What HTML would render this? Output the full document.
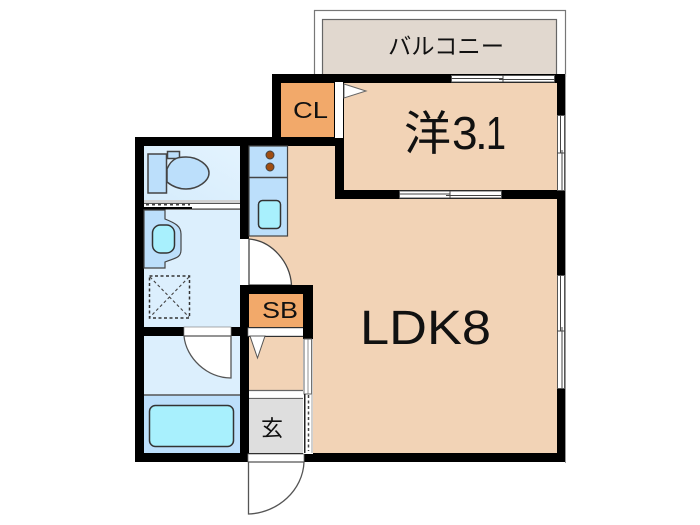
<!DOCTYPE html>
<html><head><meta charset="utf-8"><style>
html,body{margin:0;padding:0;background:#fff}
svg{display:block}
text{font-family:"Liberation Sans","Noto Sans CJK JP",sans-serif;fill:#111}
</style></head><body>
<svg width="700" height="525" viewBox="0 0 700 525" xmlns="http://www.w3.org/2000/svg">
<defs>
<linearGradient id="lb" x1="0" y1="1" x2="1" y2="0"><stop offset="0" stop-color="#d6ecfc"/><stop offset="1" stop-color="#e3f3fe"/></linearGradient>
</defs>
<rect width="700" height="525" fill="#fff"/>
<!-- balcony -->
<rect x="314.5" y="10.5" width="251" height="66" fill="#fff" stroke="#777" stroke-width="1.2"/>
<rect x="322.5" y="19.5" width="234" height="56" fill="#e1d8cf" stroke="#666" stroke-width="1.2"/>
<text x="388" y="54" font-size="23" textLength="116" lengthAdjust="spacingAndGlyphs">バルコニー</text>

<!-- black footprint -->
<path d="M272 74H565V199H565V462H304V462H135V137H272Z" fill="#000"/>
<rect x="565" y="74" width="1" height="389" fill="#999"/>

<!-- rooms -->
<rect x="344" y="83" width="213" height="107" fill="#f2d3b6"/>
<rect x="281" y="83" width="53" height="54" fill="#f2a96a"/>
<path d="M287 146H335V199H557V453H313V285H287Z" fill="#f2d3b6"/>
<rect x="249" y="236" width="39" height="50" fill="#f2d3b6"/>
<rect x="144" y="146" width="96" height="54" fill="url(#lb)"/>
<rect x="144" y="210" width="96" height="117" fill="#dceffd"/>
<rect x="144" y="336" width="96" height="59" fill="#dceffd"/>
<rect x="144" y="395" width="96" height="58" fill="#bcdffb"/>

<!-- kitchen -->
<rect x="249" y="146" width="38.5" height="90" fill="#bcdffb" stroke="#444" stroke-width="1.2"/>
<line x1="249" y1="177.5" x2="287" y2="177.5" stroke="#444" stroke-width="1.4"/>
<circle cx="270" cy="155" r="4" fill="#a04d10" stroke="#444"/>
<circle cx="270" cy="167" r="4" fill="#a04d10" stroke="#444"/>
<rect x="258.500" y="200.500" width="22" height="28" rx="4" fill="#a8f0fd" stroke="#333" stroke-width="1.500"/>

<!-- toilet -->
<rect x="148" y="154" width="18.500" height="39" fill="#bcdffb" stroke="#444" stroke-width="1.500"/>
<rect x="167.500" y="151.500" width="12" height="7" fill="#bcdffb" stroke="#444" stroke-width="1.500"/>
<path d="M167 169C172 157 180 157 186 157C198 157 209 165 209 173C209 181 198 189 186 189C178 189 172 186 167 182Z" fill="#bcdffb" stroke="#444" stroke-width="1.500"/>

<!-- partition -->
<rect x="144" y="200" width="96" height="10" fill="#fff"/>
<rect x="144" y="200" width="96" height="3" fill="#d0d0d0"/>
<rect x="144" y="203" width="96" height="1" fill="#555"/>
<line x1="146" y1="204.500" x2="190" y2="204.500" stroke="#444" stroke-width="2" stroke-dasharray="3 3"/>
<rect x="144" y="207" width="48" height="2.500" fill="#000"/>
<rect x="192" y="208.500" width="48" height="1.200" fill="#333"/>

<!-- basin -->
<path d="M144 210H165V219C175 223 181 226 181 234V250C181 258 175 258 165 262V268H144Z" fill="#bcdffb" stroke="#444" stroke-width="1.200"/>
<rect x="152.500" y="225" width="22" height="28" rx="8" fill="#a8f0fd" stroke="#333" stroke-width="1.500"/>
<!-- shower -->
<rect x="149.500" y="276" width="40" height="42" fill="none" stroke="#333" stroke-width="1.500" stroke-dasharray="3 2.500"/>
<path d="M150 277L189 317M189 277L150 317" stroke="#444" stroke-width="1.100" stroke-dasharray="3 2.500"/>

<!-- bath door -->
<rect x="184" y="327" width="47" height="9" fill="#fff" stroke="#888" stroke-width="0.700"/>
<path d="M184 336H231V378C207 378 186 358 184 336Z" fill="#fff" stroke="#555" stroke-width="1.300"/>
<!-- bath -->
<line x1="144" y1="395" x2="240" y2="395" stroke="#555" stroke-width="1.500"/>
<rect x="149.500" y="405.500" width="84" height="41" rx="6" fill="#a8f0fd" stroke="#333" stroke-width="1.500"/>

<!-- LDK door -->
<rect x="240" y="239" width="9" height="47" fill="#fff"/>
<line x1="249" y1="239" x2="249" y2="286" stroke="#777"/>
<path d="M249 239C272 241 290 262 291.500 285H249Z" fill="#fff" stroke="#444" stroke-width="1.300"/>

<!-- SB -->
<rect x="240" y="285" width="73" height="42" fill="#000"/>
<rect x="249" y="294" width="54" height="33" fill="#f2a96a"/>
<rect x="249" y="327" width="54" height="10" fill="#000"/>
<rect x="248" y="328" width="56" height="8" fill="#fff" stroke="#888" stroke-width="0.700"/>

<!-- corridor -->
<rect x="249" y="337" width="54" height="54" fill="#f2d3b6"/>
<path d="M250 336L265 336L257.500 358Z" fill="#fff" stroke="#555" stroke-width="1"/>
<rect x="249" y="390" width="54" height="9" fill="#fff"/>
<line x1="249" y1="390.500" x2="303" y2="390.500" stroke="#666" stroke-width="1.200"/>
<line x1="249" y1="398.500" x2="303" y2="398.500" stroke="#666" stroke-width="1.200"/>
<rect x="249" y="399" width="54" height="54" fill="#dedede"/>

<!-- thin wall -->
<rect x="303" y="327" width="10" height="127" fill="#fff"/>
<rect x="303" y="327" width="10" height="12" fill="#000"/>
<rect x="304" y="339" width="7.500" height="55" fill="#fff" stroke="#666" stroke-width="1"/>
<line x1="308" y1="339" x2="308" y2="394" stroke="#777" stroke-width="0.800"/>
<rect x="304" y="394" width="1.500" height="59" fill="#222"/>
<line x1="308.500" y1="395" x2="308.500" y2="451" stroke="#444" stroke-width="1.500" stroke-dasharray="3 2.500"/>
<line x1="312" y1="339" x2="312" y2="453" stroke="#888" stroke-width="0.800"/>

<!-- entrance -->
<rect x="248" y="454" width="56" height="8" fill="#fff" stroke="#777" stroke-width="0.800"/>
<path d="M248.500 462V514C278 513 303 490 304 462Z" fill="#fff" stroke="#555" stroke-width="1.300"/>

<!-- CL door & triangle -->
<rect x="335" y="82" width="8" height="56" fill="#fff"/>
<path d="M344 84L366 91L344 98Z" fill="#fff" stroke="#666" stroke-width="1"/>

<!-- windows -->
<g fill="#fff" stroke="#555" stroke-width="1">
<rect x="451.500" y="75.500" width="103" height="6.500"/>
<rect x="399.500" y="191" width="102" height="7"/>
<rect x="557.500" y="115.500" width="7" height="75"/>
<rect x="557.500" y="275.500" width="7" height="113"/>
</g>
<g stroke="#444" stroke-width="1" fill="none">
<path d="M451 78.500H503M499 79.500H555M503 75V82"/>
<path d="M399 194H450M446 195.500H501M450 191V198"/>
<path d="M560.500 115V153M562 150V190M557 153H565"/>
<path d="M560.500 275V331M562 327V388M557 331H565"/>
</g>

<!-- labels -->
<text x="293" y="118" font-size="23" textLength="35" lengthAdjust="spacingAndGlyphs">CL</text>
<text x="262" y="318" font-size="23" textLength="36" lengthAdjust="spacingAndGlyphs">SB</text>
<text x="261" y="436" font-size="22">玄</text>
<text x="404" y="150" font-size="47">洋</text>
<text x="452" y="149" font-size="46">3</text>
<text x="475" y="149" font-size="46">.</text>
<text x="486" y="149" font-size="46" textLength="20" lengthAdjust="spacingAndGlyphs">1</text>
<text x="360" y="344" font-size="48" textLength="131" lengthAdjust="spacingAndGlyphs">LDK8</text>
</svg>
</body></html>
